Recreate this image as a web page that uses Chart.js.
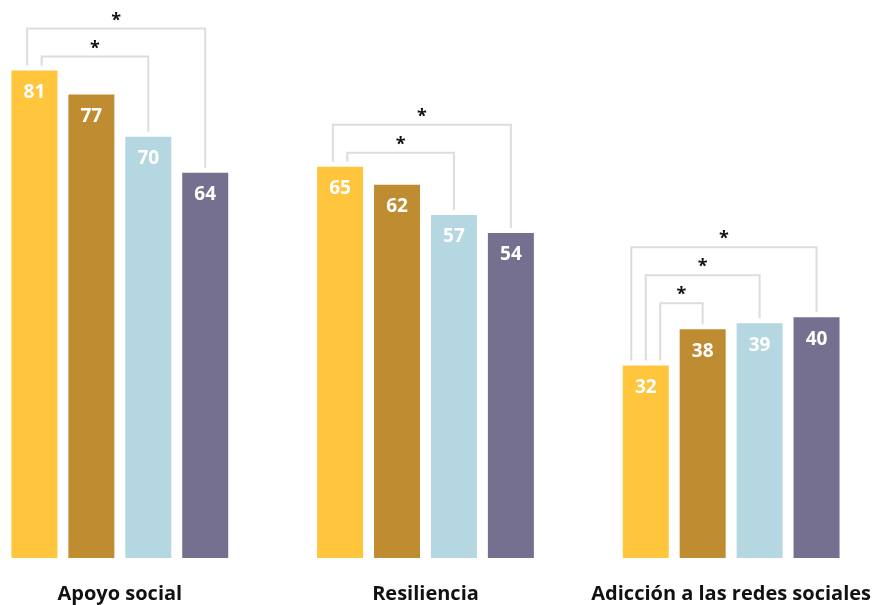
<!DOCTYPE html>
<html>
<head>
<meta charset="utf-8">
<script src="https://cdn.jsdelivr.net/npm/chart.js@4.4.1/dist/chart.umd.min.js"></script>
<style>
  html, body { margin: 0; padding: 0; background: #fff; overflow: hidden; }
  #wrap { position: relative; width: 886px; height: 605px; overflow: hidden; }
  #chart { position: absolute; left: -33px; top: 0; }
</style>
</head>
<body>
<div id="wrap"><canvas id="chart" width="928" height="634"></canvas></div>
<script>
    // categories and values
    const categories = ['Apoyo social', 'Resiliencia', 'Adicción a las redes sociales'];
    const grupo1 = [81, 65, 32];
    const grupo2 = [77, 62, 38];
    const grupo3 = [70, 57, 39];
    const grupo4 = [64, 54, 40];
    const colors = ['#ffc53c', '#c08c32', '#b4d7e1', '#75708f'];

    // significance brackets per category: [from bar, to bar], inner first
    const brackets = [
        [[0, 2], [0, 3]],
        [[0, 2], [0, 3]],
        [[0, 1], [0, 2], [0, 3]]
    ];

    const FONT = '"Open Sans", sans-serif';

    // draws the numbers in the bars and the brackets with stars
    const annotate = {
        id: 'annotate',
        afterDatasetsDraw(chart) {
            const ctx = chart.ctx;
            const metas = chart.data.datasets.map((d, i) => chart.getDatasetMeta(i));

            ctx.save();
            ctx.fillStyle = '#ffffff';
            ctx.font = 'bold 19px ' + FONT;
            ctx.textAlign = 'center';
            ctx.textBaseline = 'middle';
            metas.forEach((meta, di) => {
                meta.data.forEach((bar, ci) => {
                    ctx.fillText(chart.data.datasets[di].data[ci], bar.x, bar.y + 22);
                });
            });

            ctx.strokeStyle = '#dddddd';
            ctx.lineWidth = 2;
            brackets.forEach((list, ci) => {
                const n = list.length;
                const first = metas[0].data[ci];
                const groupTop = Math.min(...metas.map(m => m.data[ci].y));
                list.forEach((pair, k) => {
                    const a = metas[pair[0]].data[ci];
                    const b = metas[pair[1]].data[ci];
                    const level = groupTop - 14 - 28 * k;
                    const x1 = first.x - (k - (n - 1) / 2) * 14.5;
                    const x2 = b.x;
                    ctx.beginPath();
                    ctx.moveTo(x1, a.y - 5);
                    ctx.lineTo(x1, level);
                    ctx.lineTo(x2, level);
                    ctx.lineTo(x2, b.y - 5);
                    ctx.stroke();

                    ctx.fillStyle = '#111111';
                    ctx.font = 'bold 18px ' + FONT;
                    ctx.fillText('*', (x1 + x2) / 2, level - 8);
                });
            });
            ctx.restore();
        }
    };

    const chart = new Chart(document.getElementById('chart'), {
        type: 'bar',
        data: {
            labels: categories,
            datasets: [grupo1, grupo2, grupo3, grupo4].map((d, i) => ({
                data: d,
                backgroundColor: colors[i],
                borderWidth: 0,
                categoryPercentage: 0.745,
                barPercentage: 0.808
            }))
        },
        options: {
            responsive: false,
            animation: false,
            layout: { padding: { top: 0, bottom: 4, left: 0, right: 0 } },
            plugins: {
                legend: { display: false },
                tooltip: { enabled: false }
            },
            scales: {
                x: {
                    grid: { display: false, drawTicks: false },
                    border: { display: false },
                    ticks: {
                        color: '#111111',
                        padding: 24,
                        font: { family: FONT, size: 20, weight: 'bold' }
                    }
                },
                y: {
                    display: false,
                    min: 0,
                    max: 92.7
                }
            }
        },
        plugins: [annotate]
    });
</script>
</body>
</html>
